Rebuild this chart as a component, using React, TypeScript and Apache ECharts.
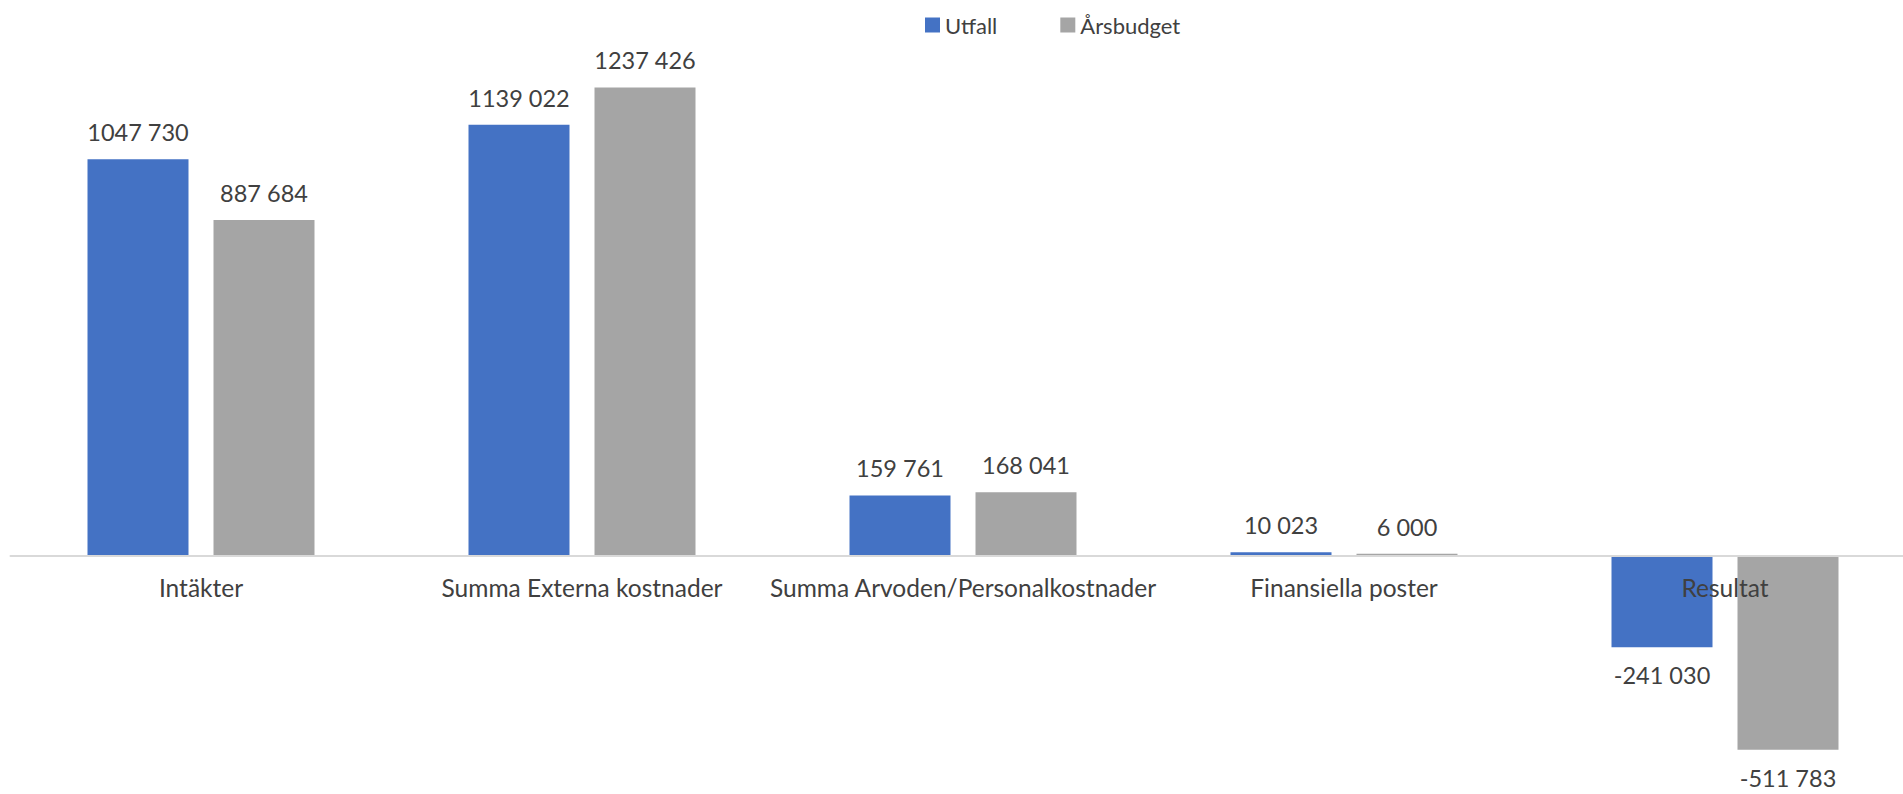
import React, { useEffect, useRef } from "react";
import * as echarts from "echarts";

const categories = [
  "Intäkter",
  "Summa Externa kostnader",
  "Summa Arvoden/Personalkostnader",
  "Finansiella poster",
  "Resultat",
];
const utfall = [1047730, 1139022, 159761, 10023, -241030];
const arsbudget = [887684, 1237426, 168041, 6000, -511783];
const seriesNames = ["Utfall", "Årsbudget"];

const FONT = "Lato, 'Noto Sans', sans-serif";
const TEXT = "#404040";

const Y_MIN = -550000;
const Y_MAX = 1300000;
const GRID_TOP = 63.8;
const GRID_H = 700.4;

function fmt(v: number): string {
  const sign = v < 0 ? "-" : "";
  const a = Math.abs(v);
  const hi = Math.trunc(a / 1000);
  const lo = a % 1000;
  if (hi === 0) return sign + String(lo);
  return sign + hi + " " + String(lo).padStart(3, "0");
}

function toData(values: number[]) {
  return values.map((v) => ({
    value: v,
    label: {
      position: v < 0 ? "bottom" : "top",
      distance: v < 0 ? 16 : 15,
    },
  }));
}

export default function App() {
  const ref = useRef<HTMLDivElement>(null);
  useEffect(() => {
    if (!ref.current) return;
    const chart = echarts.init(ref.current, undefined, { renderer: "svg" });
    const labelStyle = {
      show: true,
      color: TEXT,
      fontFamily: FONT,
      fontSize: 23.5,
      formatter: (p: any) => fmt(p.value),
    };
    // distance of the zero line above the grid's bottom edge
    const zeroOffset = (-Y_MIN / (Y_MAX - Y_MIN)) * GRID_H;
    chart.setOption({
      animation: false,
      backgroundColor: "#ffffff",
      textStyle: { fontFamily: FONT },
      legend: {
        data: seriesNames,
        left: 920,
        top: 9,
        itemWidth: 15,
        itemHeight: 15,
        itemGap: 63,
        icon: "rect",
        textStyle: { color: TEXT, fontSize: 22, fontFamily: FONT },
      },
      grid: {
        left: 10.5,
        width: 1905,
        top: GRID_TOP,
        height: GRID_H,
        containLabel: false,
        outerBoundsMode: "none",
      },
      xAxis: {
        type: "category",
        data: categories,
        position: "bottom",
        offset: -zeroOffset,
        z: 10,
        axisLine: {
          show: true,
          onZero: false,
          lineStyle: { color: "#d9d9d9", width: 2 },
        },
        axisTick: { show: false },
        axisLabel: {
          color: TEXT,
          fontSize: 24.5,
          fontFamily: FONT,
          margin: 19,
          interval: 0,
        },
        splitLine: { show: false },
      },
      yAxis: {
        type: "value",
        min: Y_MIN,
        max: Y_MAX,
        show: false,
        splitLine: { show: false },
      },
      series: [
        {
          name: seriesNames[0],
          type: "bar",
          data: toData(utfall),
          barWidth: 101,
          barGap: "24.75%",
          itemStyle: { color: "#4472C4" },
          label: labelStyle,
        },
        {
          name: seriesNames[1],
          type: "bar",
          data: toData(arsbudget),
          barWidth: 101,
          barGap: "24.75%",
          itemStyle: { color: "#A5A5A5" },
          label: labelStyle,
        },
      ],
    });
    return () => chart.dispose();
  }, []);
  return (
    <div
      ref={ref}
      style={{ position: "fixed", left: 0, top: 0, width: 1903, height: 794 }}
    />
  );
}
